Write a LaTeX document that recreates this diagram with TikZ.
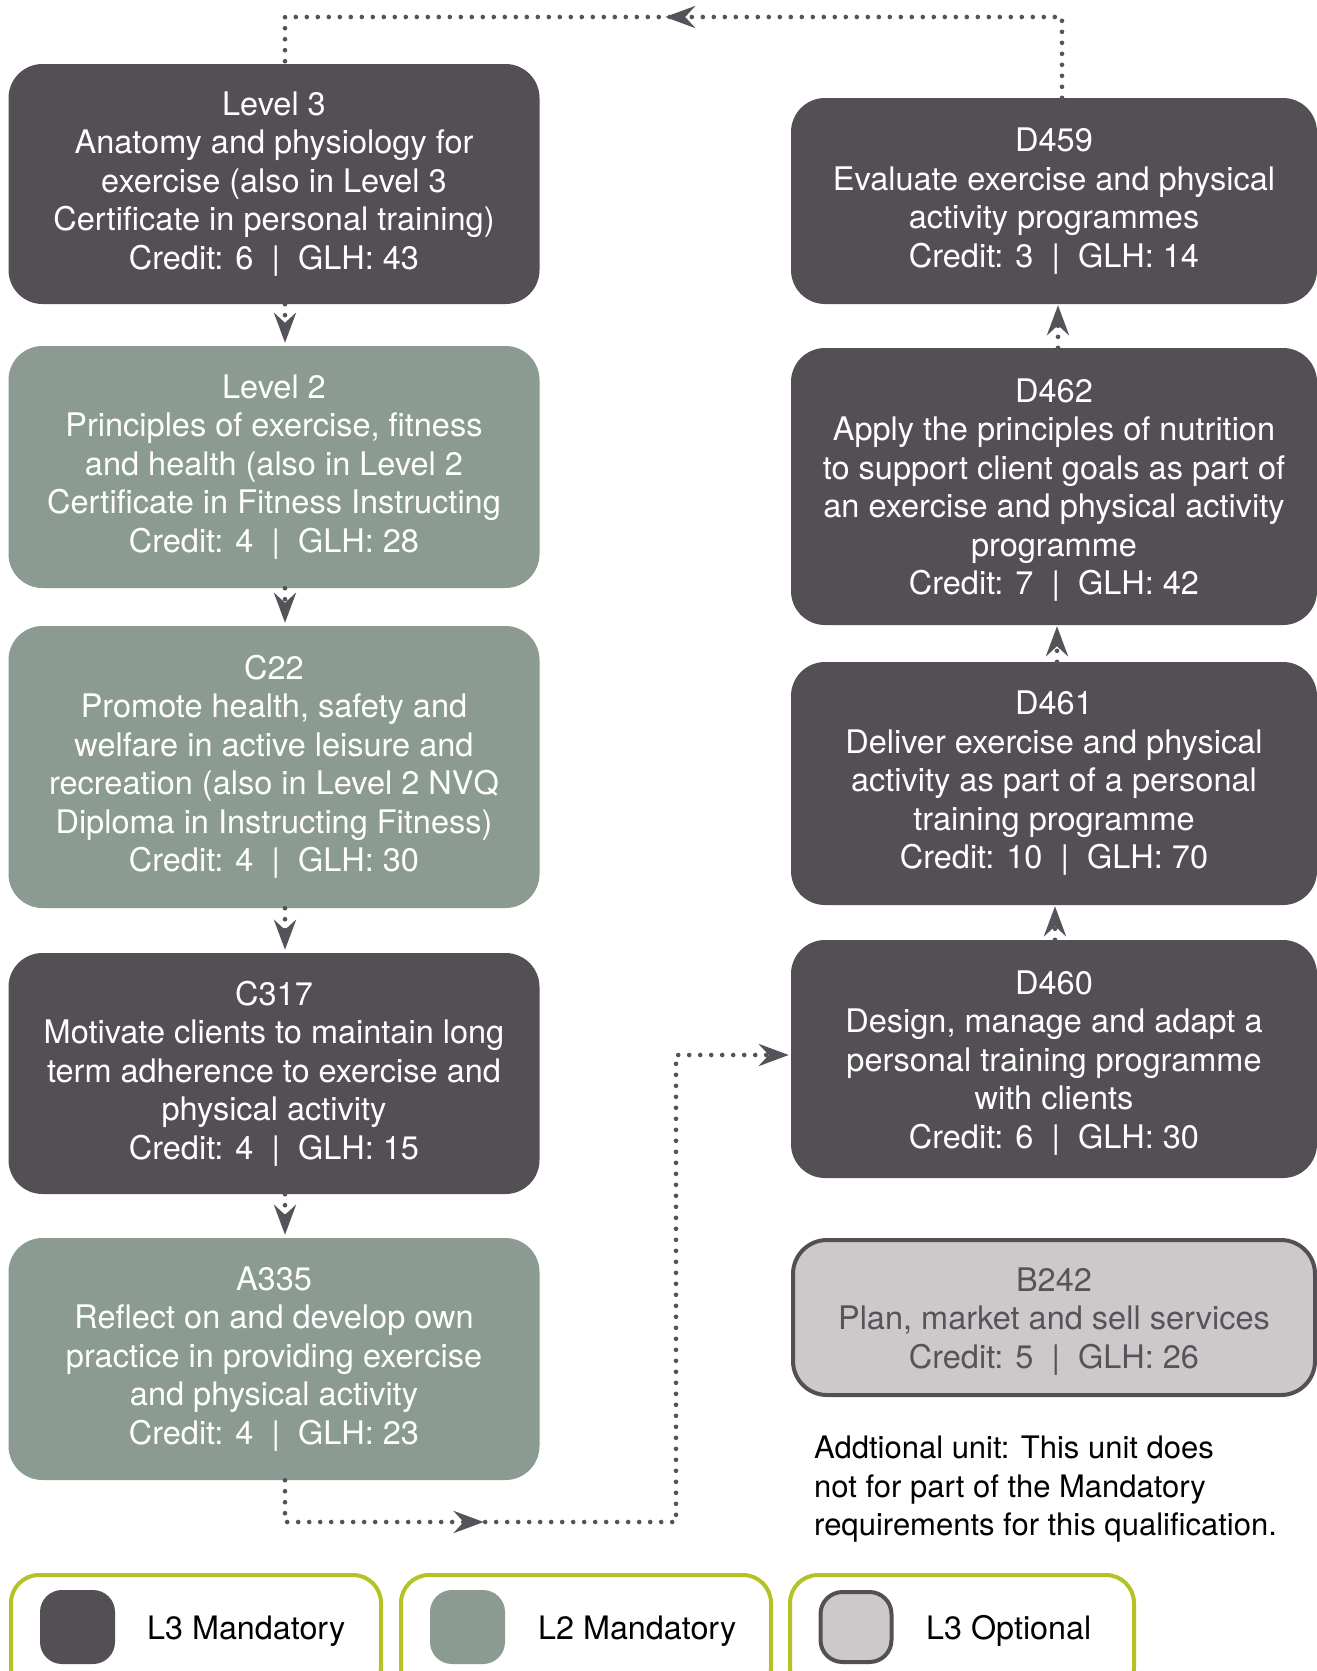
\documentclass[tikz,border=0pt]{standalone}
\usepackage{fontspec}
\setmainfont{TeX Gyre Heros}
\usetikzlibrary{arrows.meta,decorations.markings,calc}
\definecolor{darkbox}{HTML}{534F54}
\definecolor{greenbox}{HTML}{8C9B92}
\definecolor{lightbox}{HTML}{CDC9CA}
\definecolor{limeline}{HTML}{B5C225}
\definecolor{linecol}{HTML}{56525A}
\definecolor{greytext}{HTML}{57535A}
\newcommand\tstrut{\rule{0pt}{31pt}}
\tikzset{
  utip/.tip={Stealth[length=30pt, width=22pt, inset=10pt]},
  unit/.style={rectangle, rounded corners=34pt, align=center, inner sep=0pt,
    font=\fontsize{32.5}{38.5}\selectfont, text=white},
  l3m/.style={unit, fill=darkbox},
  l2m/.style={unit, fill=greenbox},
  l3o/.style={unit, fill=lightbox, draw=darkbox, line width=4pt, text=greytext},
  dotline/.style={draw=linecol, line width=4.6pt, dash pattern=on 0pt off 11pt, line cap=round},
  legbox/.style={rectangle, draw=limeline, line width=4pt, rounded corners=28pt, inner sep=0pt},
  swatch/.style={rectangle, rounded corners=22pt, minimum width=75pt, minimum height=74pt, inner sep=0pt},
  legtext/.style={anchor=west, font=\fontsize{32.3}{36}\selectfont, text=black, inner sep=0pt}
}
\begin{document}
\begin{tikzpicture}[x=1pt, y=-1pt]
\clip (0,0) rectangle (1317,1671);
\fill[white] (0,0) rectangle (1317,1671);

% left column
\node[l3m, minimum width=531pt, minimum height=240pt] (b1) at (274,184)
  {Level 3\\Anatomy and physiology for\\exercise (also in Level 3\\Certificate in personal training)\\Credit: 6~~|~~GLH: 43};
\node[l2m, minimum width=531pt, minimum height=242pt] (b2) at (274,467)
  {Level 2\\Principles of exercise, fitness\\and health (also in Level 2\\Certificate in Fitness Instructing\\Credit: 4~~|~~GLH: 28};
\node[l2m, minimum width=531pt, minimum height=282pt] (b3) at (274,767)
  {C22\\Promote health, safety and\\welfare in active leisure and\\recreation (also in Level 2 NVQ\\Diploma in Instructing Fitness)\\Credit: 4~~|~~GLH: 30};
\node[l3m, minimum width=531pt, minimum height=241pt] (b4) at (274,1073.5)
  {C317\\Motivate clients to maintain long\\term adherence to exercise and\\physical activity\\Credit: 4~~|~~GLH: 15};
\node[l2m, minimum width=531pt, minimum height=242pt] (b5) at (274,1359)
  {A335\\Reflect on and develop own\\practice in providing exercise\\and physical activity\\Credit: 4~~|~~GLH: 23};

% right column
\node[l3m, minimum width=526pt, minimum height=206pt] (r1) at (1054,201)
  {D459\\Evaluate exercise and physical\\activity programmes\\Credit: 3~~|~~GLH: 14};
\node[l3m, minimum width=526pt, minimum height=277pt] (r2) at (1054,486.5)
  {\tstrut D462\\Apply the principles of nutrition\\to support client goals as part of\\an exercise and physical activity\\programme\\Credit: 7~~|~~GLH: 42};
\node[l3m, minimum width=526pt, minimum height=243pt] (r3) at (1054,783.5)
  {D461\\Deliver exercise and physical\\activity as part of a personal\\training programme\\Credit: 10~~|~~GLH: 70};
\node[l3m, minimum width=526pt, minimum height=238pt] (r4) at (1054,1059)
  {\tstrut D460\\Design, manage and adapt a\\personal training programme\\with clients\\Credit: 6~~|~~GLH: 30};
\node[l3o, minimum width=522pt, minimum height=155pt] (r5) at (1054,1317.5)
  {\tstrut B242\\Plan, market and sell services\\Credit: 5~~|~~GLH: 26};

\node[anchor=north west, align=left, inner sep=0pt, font=\fontsize{31}{38.5}\selectfont, text=black] (note) at (814,1436)
  {Addtional unit: This unit does\\not for part of the Mandatory\\requirements for this qualification.};

% left column connectors
\draw[dotline, -{utip}, shorten >=3pt] ([xshift=11pt]b1.south) -- ([xshift=11pt]b2.north);
\draw[dotline, -{utip}, shorten >=3pt] ([xshift=11pt]b2.south) -- ([xshift=11pt]b3.north);
\draw[dotline, -{utip}, shorten >=3pt] ([xshift=11pt]b3.south) -- ([xshift=11pt]b4.north);
\draw[dotline, -{utip}, shorten >=3pt] ([xshift=11pt]b4.south) -- ([xshift=11pt]b5.north);

% right column connectors
\draw[dotline, -{utip}, shorten >=1pt] ([xshift=4pt]r2.north) -- ([xshift=4pt]r1.south);
\draw[dotline, -{utip}, shorten >=1pt] ([xshift=3pt]r3.north) -- ([xshift=3pt]r2.south);
\draw[dotline, -{utip}, shorten >=1pt] ([xshift=1pt]r4.north) -- ([xshift=1pt]r3.south);

% top loop
\coordinate (tr) at (1062,17);
\coordinate (tl) at (285,17);
\draw[dotline, postaction={decorate}, decoration={markings, mark=at position 0.528 with {\arrow{utip}}}]
  ([xshift=8pt]r1.north) -- (tr) -- (tl) -- ([xshift=11pt]b1.north);

% bottom connector
\coordinate (bl) at (285,1522);
\coordinate (bm) at (676,1522);
\coordinate (bu) at (676,1055);
\draw[dotline, -{utip}, shorten >=2pt, postaction={decorate}, decoration={markings, mark=at position 0.237 with {\arrow{utip}}}]
  ([xshift=11pt]b5.south) -- (bl) -- (bm) -- (bu) -- (bu -| r4.west);

% legend
\node[legbox, minimum width=370pt, minimum height=120pt] (lg1) at (196,1635) {};
\node[legbox, minimum width=370pt, minimum height=120pt] (lg2) at (586,1635) {};
\node[legbox, minimum width=344pt, minimum height=120pt] (lg3) at (962,1635) {};
\node[swatch, fill=darkbox] (sw1) at (77.5,1627) {};
\node[swatch, fill=greenbox] (sw2) at (467.5,1627) {};
\node[swatch, fill=lightbox, draw=darkbox, line width=4pt, minimum width=71pt, minimum height=70pt] (sw3) at (856,1627) {};
\node[legtext] (lt1) at (147,1631) {L3 Mandatory};
\node[legtext] (lt2) at (538,1631) {L2 Mandatory};
\node[legtext] (lt3) at (926,1631) {L3 Optional};
\end{tikzpicture}
\end{document}
